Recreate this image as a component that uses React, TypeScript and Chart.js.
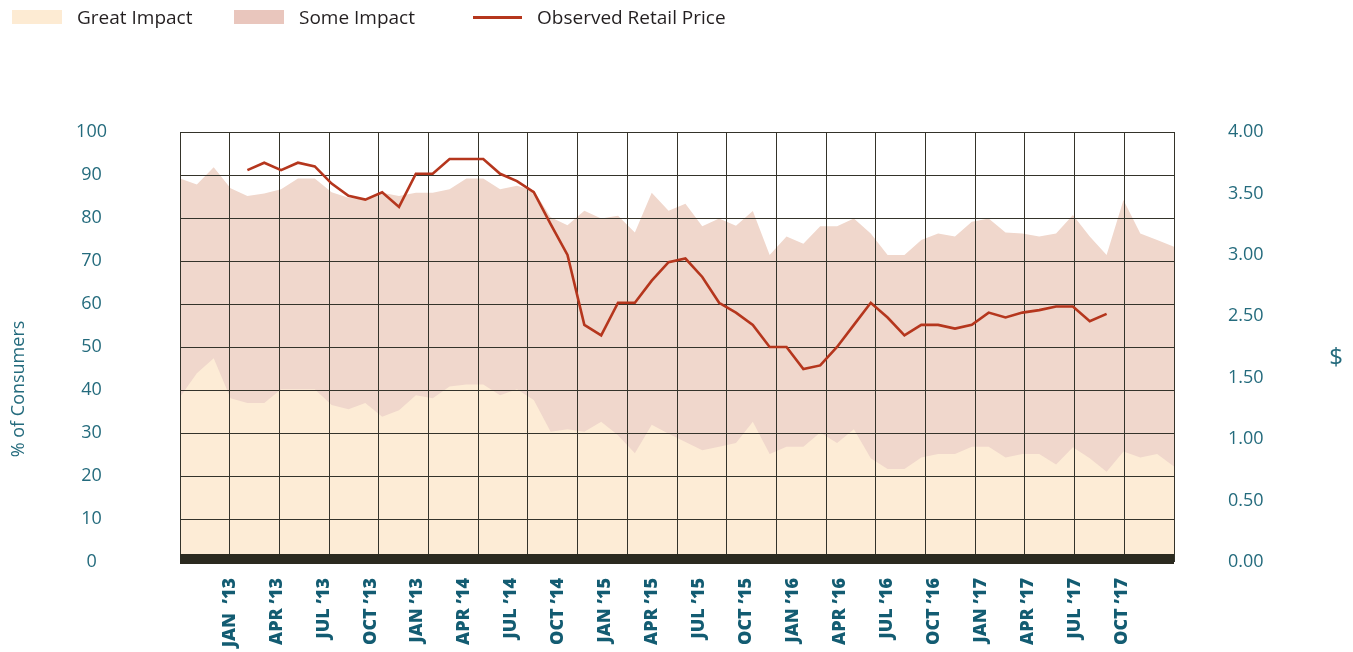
import React, { useEffect, useRef } from "react";
import { Chart, registerables } from "chart.js";

Chart.register(...registerables);

// ---- data ----
const greatImpact = [
  38.4, 43.9, 47.4, 38.1, 37.0, 37.0, 40.2, 40.2, 40.2, 36.5,
  35.5, 37.0, 33.8, 35.3, 38.8, 38.1, 40.8, 41.3, 41.3, 38.8,
  40.2, 37.7, 30.3, 30.9, 30.3, 32.6, 29.5, 25.3, 31.9, 29.8,
  27.9, 26.0, 26.8, 27.7, 32.6, 25.1, 26.8, 26.8, 30.1, 27.7,
  30.9, 24.1, 21.6, 21.6, 24.3, 25.1, 25.1, 26.8, 26.8, 24.3,
  25.1, 25.1, 22.7, 26.7, 24.1, 21.0, 25.7, 24.3, 25.1, 22.2,
];

const someImpact = [
  50.8, 43.9, 44.4, 48.8, 48.1, 48.7, 46.5, 49.0, 49.0, 49.5,
  49.2, 47.3, 52.1, 49.8, 47.1, 47.8, 45.9, 47.9, 47.9, 47.9,
  47.3, 48.7, 49.9, 47.4, 51.4, 47.3, 51.0, 51.3, 54.0, 51.9,
  55.4, 52.1, 53.1, 50.5, 49.0, 46.3, 48.9, 47.2, 48.0, 50.4,
  49.0, 52.3, 49.8, 49.8, 50.6, 51.3, 50.6, 52.3, 53.1, 52.3,
  51.3, 50.6, 53.7, 54.0, 51.6, 50.4, 58.5, 52.1, 49.8, 51.1,
];

const priceStartIndex = 4;
const retailPrice = [
  3.69, 3.75, 3.69, 3.75, 3.72, 3.58, 3.48, 3.45, 3.51, 3.39,
  3.66, 3.66, 3.78, 3.78, 3.78, 3.66, 3.60, 3.51, 3.25, 3.00,
  2.36, 2.19, 2.61, 2.61, 2.79, 2.94, 2.97, 2.82, 2.61, 2.53,
  2.36, 2.00, 2.00, 1.64, 1.70, 2.00, 2.36, 2.61, 2.48, 2.19,
  2.36, 2.36, 2.30, 2.36, 2.53, 2.48, 2.53, 2.55, 2.58, 2.58,
  2.42, 2.52,
];

const xLabels = [
  "JAN  \u201913", "APR \u201913", "JUL \u201913", "OCT \u201913",
  "JAN \u201913", "APR \u201914", "JUL \u201914", "OCT \u201914",
  "JAN \u201915", "APR \u201915", "JUL \u201915", "OCT \u201915",
  "JAN \u201916", "APR \u201916", "JUL \u201916", "OCT \u201916",
  "JAN \u201917", "APR \u201917", "JUL \u201917", "OCT \u201917",
];

const pctTicks = [0, 10, 20, 30, 40, 50, 60, 70, 80, 90, 100];
const priceTickLabels = ["0.00", "0.50", "1.00", "1.50", "2.50", "3.00", "3.50", "4.00"];

const legendItems = [
  { label: "Great Impact", kind: "box", color: "#fdebd3" },
  { label: "Some Impact", kind: "box", color: "#e9c6bd" },
  { label: "Observed Retail Price", kind: "line", color: "#b5361d" },
];

// ---- styles ----
const CREAM = "#fdecd6";
const PINK = "#f0d7cc";
const RED = "#b5361d";
const GRID = "#34332a";
const TEAL = "#246b7d";
const TEAL_DARK = "#135c72";
const BAND = "#2b2a1f";
const GRID_COLUMNS = 20;

// place a printed price on the (evenly spaced) printed tick labels
function toPriceAxis(p: number): number {
  const vals = priceTickLabels.map(Number);
  for (let k = 0; k < vals.length - 1; k++) {
    if (p >= vals[k] && p <= vals[k + 1]) {
      return k + (p - vals[k]) / (vals[k + 1] - vals[k]);
    }
  }
  return p < vals[0] ? 0 : vals.length - 1;
}

const bandPlugin = {
  id: "bottomBand",
  afterDatasetsDraw(chart: any) {
    const { ctx, chartArea } = chart;
    ctx.save();
    ctx.fillStyle = BAND;
    ctx.fillRect(chartArea.left, chartArea.bottom - 8, chartArea.right - chartArea.left, 10);
    ctx.restore();
  },
};

const titlesPlugin = {
  id: "axisTitles",
  afterDraw(chart: any) {
    const { ctx } = chart;
    ctx.save();
    ctx.fillStyle = TEAL;
    ctx.textAlign = "center";
    ctx.textBaseline = "middle";
    ctx.font = "18px 'Open Sans'";
    ctx.translate(19, 389);
    ctx.rotate(-Math.PI / 2);
    ctx.fillText("% of Consumers", 0, 0);
    ctx.restore();

    ctx.save();
    ctx.fillStyle = TEAL;
    ctx.textAlign = "center";
    ctx.textBaseline = "middle";
    ctx.font = "24px 'Open Sans'";
    ctx.fillText("$", 1336, 358);
    ctx.restore();
  },
};

export default function App() {
  const canvasRef = useRef<HTMLCanvasElement | null>(null);

  useEffect(() => {
    const canvas = canvasRef.current;
    if (!canvas) return;
    const lastIndex = greatImpact.length - 1;

    const chart = new Chart(canvas, {
      type: "line",
      data: {
        datasets: [
          {
            label: "Great Impact",
            data: greatImpact.map((v, i) => ({ x: i, y: v })),
            xAxisID: "x",
            yAxisID: "y",
            stack: "impact",
            fill: "origin",
            backgroundColor: CREAM,
            borderWidth: 0,
            pointRadius: 0,
            tension: 0,
          },
          {
            // stacked on Great Impact; fills drawn last-to-first, so the
            // cream area is painted over the lower part of this one
            label: "Some Impact",
            data: someImpact.map((v, i) => ({ x: i, y: v })),
            xAxisID: "x",
            yAxisID: "y",
            stack: "impact",
            fill: "origin",
            backgroundColor: PINK,
            borderWidth: 0,
            pointRadius: 0,
            tension: 0,
          },
          {
            label: "Observed Retail Price",
            data: retailPrice.map((p, i) => ({ x: priceStartIndex + i, y: toPriceAxis(p) })),
            xAxisID: "x",
            yAxisID: "y2",
            fill: false,
            borderColor: RED,
            borderWidth: 2.6,
            pointRadius: 0,
            tension: 0,
          },
        ],
      },
      options: {
        responsive: false,
        animation: false,
        events: [],
        layout: { padding: { top: 132, left: 0, right: 0, bottom: 0 } },
        plugins: {
          legend: { display: false },
          tooltip: { enabled: false },
          filler: { drawTime: "beforeDraw" },
        } as any,
        scales: {
          x: {
            type: "linear",
            position: "bottom",
            min: 0,
            max: lastIndex,
            afterBuildTicks: (s: any) => {
              s.ticks = Array.from({ length: GRID_COLUMNS + 1 }, (_, k) => ({
                value: (k * lastIndex) / GRID_COLUMNS,
              }));
            },
            ticks: { display: false },
            grid: { color: GRID, lineWidth: 1, drawTicks: false },
            border: { display: false },
            afterFit: (s: any) => {
              s.height = 0;
            },
          },
          x2: {
            type: "linear",
            position: "bottom",
            min: -0.054,
            max: 21.113,
            afterBuildTicks: (s: any) => {
              s.ticks = xLabels.map((_, k) => ({ value: k + 1 }));
            },
            ticks: {
              autoSkip: false,
              minRotation: 90,
              maxRotation: 90,
              padding: 16,
              color: TEAL_DARK,
              font: { family: "'Open Sans'", weight: "800", size: 18 },
              callback: (_v: any, i: number) => xLabels[i],
            },
            grid: { display: false, drawTicks: false },
            border: { display: false },
            afterFit: (s: any) => {
              s.height = 90;
            },
          },
          y: {
            type: "linear",
            position: "left",
            stacked: true,
            min: 0,
            max: 100,
            afterBuildTicks: (s: any) => {
              s.ticks = pctTicks.map((v) => ({ value: v }));
            },
            ticks: {
              padding: 73,
              crossAlign: "center",
              color: TEAL,
              font: { family: "'Open Sans'", size: 18 },
              callback: (v: any) => String(v),
            },
            grid: { color: GRID, lineWidth: 1, drawTicks: false },
            border: { display: false },
            afterFit: (s: any) => {
              s.width = 180;
            },
          },
          y2: {
            type: "linear",
            position: "right",
            min: 0,
            max: priceTickLabels.length - 1,
            afterBuildTicks: (s: any) => {
              s.ticks = priceTickLabels.map((_, k) => ({ value: k }));
            },
            ticks: {
              padding: 54,
              color: TEAL,
              font: { family: "'Open Sans'", size: 18 },
              callback: (_v: any, i: number) => priceTickLabels[i],
            },
            grid: { display: false, drawTicks: false },
            border: { display: false },
            afterFit: (s: any) => {
              s.width = 179;
            },
          },
        },
      } as any,
      plugins: [bandPlugin, titlesPlugin],
    });

    return () => chart.destroy();
  }, []);

  const legendX = [12, 234, 473];

  return (
    <div
      style={{
        position: "absolute",
        left: 0,
        top: 0,
        width: 1353,
        height: 652,
        background: "#ffffff",
        overflow: "hidden",
      }}
    >
      <canvas
        ref={canvasRef}
        width={1353}
        height={652}
        style={{ position: "absolute", left: 0, top: 0, width: 1353, height: 652 }}
      />
      {legendItems.map((item, i) => (
        <div
          key={item.label}
          style={{
            position: "absolute",
            left: legendX[i],
            top: 3,
            height: 28,
            display: "flex",
            alignItems: "center",
            fontFamily: "'Open Sans', sans-serif",
            fontSize: 19,
            color: "#231f20",
            whiteSpace: "nowrap",
          }}
        >
          <div
            style={{
              width: item.kind === "box" ? 50 : 49,
              height: item.kind === "box" ? 14 : 3,
              background: item.color,
              marginRight: 15,
            }}
          />
          <span>{item.label}</span>
        </div>
      ))}
    </div>
  );
}
